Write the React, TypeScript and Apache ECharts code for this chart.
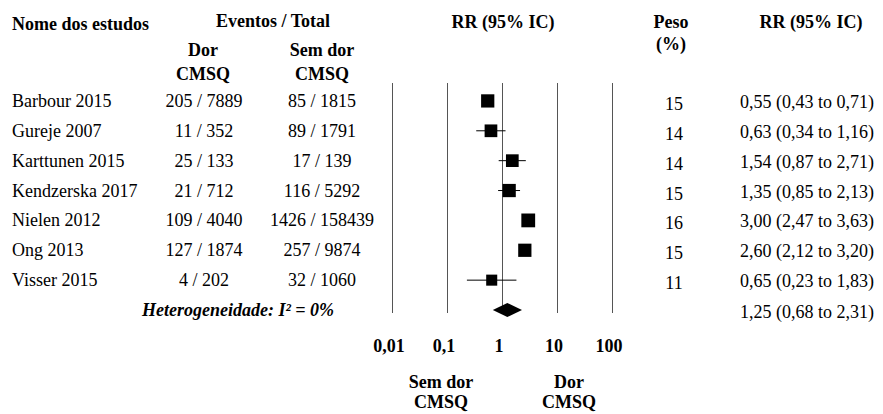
import React, { useEffect, useRef } from "react";
import * as echarts from "echarts";

const studies = ["Barbour 2015", "Gureje 2007", "Karttunen 2015", "Kendzerska 2017", "Nielen 2012", "Ong 2013", "Visser 2015"];
const eventsPain = ["205 / 7889", "11 / 352", "25 / 133", "21 / 712", "109 / 4040", "127 / 1874", "4 / 202"];
const eventsNoPain = ["85 / 1815", "89 / 1791", "17 / 139", "116 / 5292", "1426 / 158439", "257 / 9874", "32 / 1060"];
const rr = [0.55, 0.63, 1.54, 1.35, 3.0, 2.6, 0.65];
const lower = [0.43, 0.34, 0.87, 0.85, 2.47, 2.12, 0.23];
const upper = [0.71, 1.16, 2.71, 2.13, 3.63, 3.2, 1.83];
const weights = [15, 14, 14, 15, 16, 15, 11];
const pooledRR = 1.25;
const pooledLower = 0.68;
const pooledUpper = 2.31;
const heterogeneity = "Heterogeneidade: I² = 0%";
const tickLabels = ["0,01", "0,1", "1", "10", "100"];

const FONT = '"Liberation Serif", "Times New Roman", Times, serif';
const fmt = (v: number) => v.toFixed(2).replace(".", ",");
const rrText = (e: number, l: number, h: number) => `${fmt(e)} (${fmt(l)} to ${fmt(h)})`;

function txt(text: string, x: number, y: number, opts: any = {}) {
  const align = opts.align || "center";
  return {
    type: "text",
    x,
    y,
    silent: true,
    style: {
      text,
      fill: "#000",
      fontFamily: FONT,
      fontSize: 18,
      fontWeight: opts.weight || "bold",
      fontStyle: opts.style || "normal",
      align,
      textAlign: align,
      verticalAlign: "middle",
      textVerticalAlign: "middle",
    },
  };
}

export default function App() {
  const ref = useRef<HTMLDivElement>(null);
  useEffect(() => {
    document.body.style.margin = "0";
    const chart = echarts.init(ref.current!, null, { renderer: "svg" });
    const rowCount = studies.length;
    const option: any = {
      animation: false,
      backgroundColor: "#fff",
      grid: { left: 392, right: 271, top: 83, bottom: 101, containLabel: false },
      xAxis: {
        type: "log",
        logBase: 10,
        min: 0.01,
        max: 100,
        axisLine: { show: false },
        axisTick: { show: false },
        splitLine: { show: true, lineStyle: { color: "#555", width: 1 } },
        axisLabel: {
          margin: 24,
          padding: [0, 6, 0, 0],
          fontFamily: FONT,
          fontSize: 18,
          fontWeight: "bold",
          color: "#000",
          formatter: (v: number) => tickLabels[Math.round(Math.log10(v)) + 2] ?? "",
        },
      },
      yAxis: {
        type: "value",
        inverse: true,
        min: -0.6,
        max: 7.1,
        show: false,
      },
      graphic: [
        txt("Nome dos estudos", 12, 24, { align: "left" }),
        txt("Eventos / Total", 273, 21),
        txt("Dor", 203, 50),
        txt("CMSQ", 203, 74),
        txt("Sem dor", 322, 50),
        txt("CMSQ", 322, 74),
        txt("RR (95% IC)", 503, 22),
        txt("Peso", 671, 22),
        txt("(%)", 671, 44),
        txt("RR (95% IC)", 811, 22),
        txt("Sem dor", 441, 382),
        txt("CMSQ", 441, 402),
        txt("Dor", 569, 382),
        txt("CMSQ", 569, 402),
      ],
      series: [
        {
          type: "custom",
          name: "table",
          clip: false,
          silent: true,
          data: studies.map((_, i) => [1, i]),
          encode: { x: 0, y: 1 },
          renderItem: (params: any, api: any) => {
            const i = params.dataIndex;
            const y = api.coord([1, api.value(1)])[1];
            const base = { fill: "#000", fontFamily: FONT, fontSize: 18, verticalAlign: "middle", textVerticalAlign: "middle" };
            return {
              type: "group",
              children: [
                { type: "text", style: { ...base, text: studies[i], x: 12, y, align: "left", textAlign: "left" } },
                { type: "text", style: { ...base, text: eventsPain[i], x: 204, y, align: "center", textAlign: "center" } },
                { type: "text", style: { ...base, text: eventsNoPain[i], x: 322, y, align: "center", textAlign: "center" } },
                { type: "text", style: { ...base, text: String(weights[i]), x: 674, y: y + 3, align: "center", textAlign: "center" } },
                { type: "text", style: { ...base, text: rrText(rr[i], lower[i], upper[i]), x: 740, y: y + 1, align: "left", textAlign: "left" } },
              ],
            };
          },
        },
        {
          type: "custom",
          name: "summaryText",
          clip: false,
          silent: true,
          data: [[1, rowCount]],
          encode: { x: 0, y: 1 },
          renderItem: (params: any, api: any) => {
            const y = api.coord([1, api.value(1)])[1];
            const base = { fill: "#000", fontFamily: FONT, fontSize: 18, verticalAlign: "middle", textVerticalAlign: "middle" };
            return {
              type: "group",
              children: [
                { type: "text", style: { ...base, text: heterogeneity, x: 238, y, fontWeight: "bold", fontStyle: "italic", align: "center", textAlign: "center" } },
                { type: "text", style: { ...base, text: rrText(pooledRR, pooledLower, pooledUpper), x: 740, y: y + 2, align: "left", textAlign: "left" } },
              ],
            };
          },
        },
        {
          type: "custom",
          name: "ci",
          silent: true,
          data: lower.map((l, i) => [l, upper[i], i]),
          encode: { x: [0, 1], y: 2 },
          renderItem: (params: any, api: any) => {
            const a = api.coord([api.value(0), api.value(2)]);
            const b = api.coord([api.value(1), api.value(2)]);
            return {
              type: "line",
              shape: { x1: a[0], y1: a[1], x2: b[0], y2: b[1] },
              style: { stroke: "#000", lineWidth: 1 },
            };
          },
          z: 3,
        },
        {
          type: "scatter",
          name: "RR",
          silent: true,
          symbol: "rect",
          data: rr.map((v, i) => [v, i]),
          symbolSize: (_: any, p: any) => 5 + weights[p.dataIndex] * 0.55,
          itemStyle: { color: "#000", opacity: 1 },
          z: 4,
        },
        {
          type: "custom",
          name: "pooled",
          silent: true,
          data: [[pooledLower, pooledRR, pooledUpper, rowCount]],
          encode: { x: [0, 1, 2], y: 3 },
          renderItem: (params: any, api: any) => {
            const row = api.value(3);
            const l = api.coord([api.value(0), row]);
            const m = api.coord([api.value(1), row]);
            const h = api.coord([api.value(2), row]);
            const half = 7;
            return {
              type: "polygon",
              shape: { points: [[l[0], l[1]], [m[0], m[1] - half], [h[0], h[1]], [m[0], m[1] + half]] },
              style: { fill: "#000" },
            };
          },
          z: 4,
        },
      ],
    };
    chart.setOption(option);
    return () => chart.dispose();
  }, []);
  return <div ref={ref} style={{ width: 883, height: 414 }} />;
}
